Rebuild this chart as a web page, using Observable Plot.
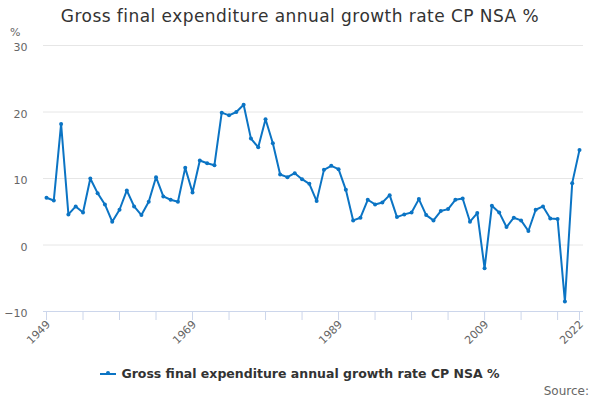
<!DOCTYPE html>
<html>
<head>
<meta charset="utf-8">
<script src="https://cdn.jsdelivr.net/npm/d3@7"></script>
<script src="https://cdn.jsdelivr.net/npm/@observablehq/plot@0.6"></script>
<style>
  html, body { margin: 0; padding: 0; background: #fff; }
  #wrap { position: relative; width: 600px; height: 400px; overflow: hidden; font-family: "DejaVu Sans", sans-serif; }
  #chart { position: absolute; left: 0; top: 0; }
  #title { position: absolute; left: 0; top: 6px; width: 600px; text-align: center; font-size: 17px; letter-spacing: 0.45px; color: #333; }
  #unit { position: absolute; left: 10px; top: 26px; font-size: 11px; color: #666; }
  #legend { position: absolute; left: 0; top: 366px; width: 600px; text-align: center; font-size: 12.5px; font-weight: bold; color: #333; }
  #legend .sym { display: inline-block; position: relative; width: 16px; height: 2px; background: #0b74c4; vertical-align: middle; margin-right: 5px; top: -1px; }
  #legend .sym::after { content: ""; position: absolute; left: 6px; top: -2px; width: 4px; height: 4px; border-radius: 50%; background: #0b74c4; }
  #source { position: absolute; right: 11px; top: 384px; font-size: 12px; color: #666; }
</style>
</head>
<body>
<div id="wrap">
  <div id="chart"></div>
  <div id="title">Gross final expenditure annual growth rate CP NSA %</div>
  <div id="unit">%</div>
  <div id="legend"><span class="sym"></span>Gross final expenditure annual growth rate CP NSA %</div>
  <div id="source">Source:</div>
</div>
<script>
const years = d3.range(1949, 2023);
const growth = [
  7.1, 6.7, 18.2, 4.6, 5.8, 4.9, 10.0, 7.8, 6.1, 3.5,
  5.3, 8.2, 5.8, 4.5, 6.5, 10.2, 7.3, 6.8, 6.5, 11.6,
  7.9, 12.7, 12.3, 12.0, 19.9, 19.5, 20.0, 21.1, 16.0, 14.7,
  18.9, 15.3, 10.6, 10.2, 10.8, 9.9, 9.2, 6.6, 11.3, 11.9,
  11.4, 8.3, 3.7, 4.1, 6.8, 6.1, 6.4, 7.5, 4.2, 4.6,
  4.9, 6.9, 4.5, 3.7, 5.1, 5.4, 6.8, 7.0, 3.5, 4.8,
  -3.5, 5.9, 4.9, 2.7, 4.1, 3.7, 2.1, 5.3, 5.8, 4.0,
  3.9, -8.5, 9.3, 14.3
];
const xTickYears = [1949, 1954, 1959, 1964, 1969, 1974, 1979, 1984, 1989, 1994, 1999, 2004, 2009, 2014, 2019, 2022];
const xLabelYears = [1949, 1969, 1989, 2009, 2022];
const yTicks = [-10, 0, 10, 20, 30];
const gridValues = [0, 10, 20, 30];

const data = years.map((year, i) => ({year, value: growth[i]}));
const blue = "#0b74c4";

const chart = Plot.plot({
  width: 600,
  height: 400,
  marginTop: 45,
  marginBottom: 89,
  marginLeft: 43,
  marginRight: 17,
  style: {fontFamily: "DejaVu Sans, sans-serif", background: "transparent"},
  x: {domain: [1949, 2022], insetLeft: 3, insetRight: 4, axis: null},
  y: {domain: [-10, 30], axis: null},
  marks: [
    Plot.ruleY(gridValues, {stroke: "#e6e6e6", strokeWidth: 1}),
    Plot.ruleY([-10], {stroke: "#ccd6eb", strokeWidth: 1}),
    Plot.axisX({ticks: xTickYears, tickSize: 9, stroke: "#ccd6eb", strokeOpacity: 1, tickFormat: () => "", label: null}),
    Plot.axisY({ticks: yTicks, tickSize: 0, tickPadding: 16, fontSize: 11, fill: "#666", dy: 2, label: null}),
    Plot.text(xLabelYears, {x: d => d, y: -10, text: d => String(d), rotate: -45, textAnchor: "end", dy: 11, dx: 2, fill: "#666", fontSize: 11}),
    Plot.line(data, {x: "year", y: "value", stroke: blue, strokeWidth: 2}),
    Plot.dot(data, {x: "year", y: "value", r: 2, fill: blue, stroke: "none"})
  ]
});
document.getElementById("chart").appendChild(chart);
</script>
</body>
</html>
